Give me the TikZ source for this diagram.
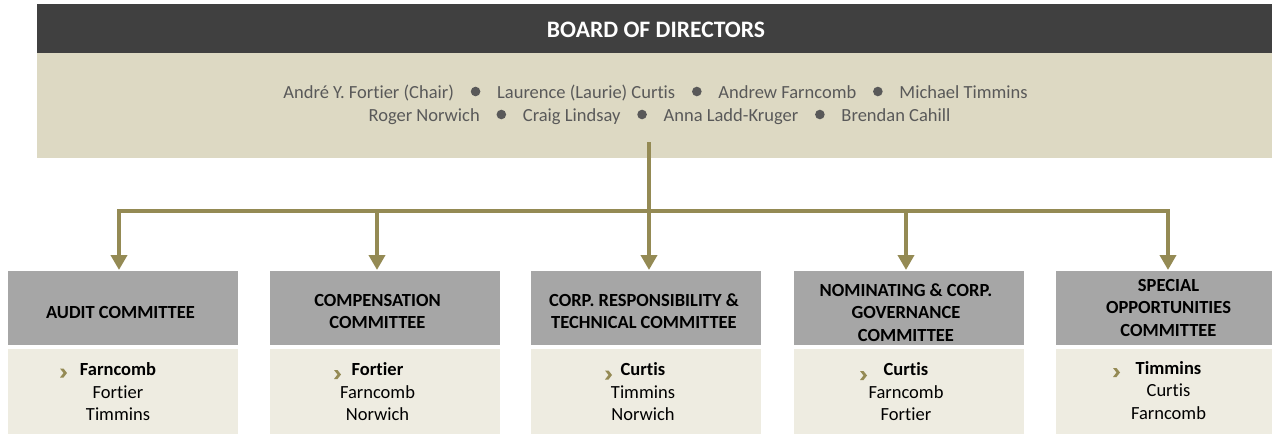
\documentclass[tikz,border=0pt]{standalone}
\usepackage{fontspec}
\setmainfont{Carlito}[Ligatures=NoCommon]
\usetikzlibrary{arrows.meta}
\definecolor{hdrc}{HTML}{404040}
\definecolor{panelc}{HTML}{DDD9C3}
\definecolor{cboxc}{HTML}{A6A6A6}
\definecolor{mboxc}{HTML}{EEECE1}
\definecolor{olivec}{HTML}{948A54}
\definecolor{ptextc}{HTML}{595959}
\newcommand{\dotsep}{\hspace{16.8pt}\tikz[baseline=0pt]\fill[ptextc] (0pt,6.5pt) circle[radius=4.8pt];\hspace{16.8pt}}
\begin{document}
\begin{tikzpicture}[x=1pt,y=-1pt,
  boxbase/.style={draw=none,inner sep=0pt,outer sep=0pt},
  hdrbox/.style={boxbase,fill=hdrc,minimum width=1235pt,minimum height=49pt},
  panelbox/.style={boxbase,fill=panelc,minimum width=1235pt,minimum height=105pt},
  combox/.style={boxbase,fill=cboxc,minimum width=230pt,minimum height=74pt},
  membox/.style={boxbase,fill=mboxc,minimum width=230pt,minimum height=85pt},
  hdrtext/.style={anchor=base,inner sep=0pt,text=white,font=\fontsize{23.6}{27}\selectfont\bfseries},
  paneltext/.style={anchor=base,inner sep=0pt,text=ptextc,font=\fontsize{18.5}{23}\selectfont},
  comlabel/.style={anchor=base,inner sep=0pt,align=center,text=black,font=\fontsize{18.5}{22.5}\selectfont\bfseries},
  memtext/.style={anchor=base,inner sep=0pt,align=center,text=black,font=\fontsize{18.5}{22.5}\selectfont},
  conn/.style={draw=olivec,line width=4pt,-{Triangle[length=15pt,width=16pt]}},
  chev/.pic={\fill[olivec] (0,0) -- (3.5,0) -- (7,4.5) -- (3.5,9) -- (0,9) -- (3.5,4.5) -- cycle;}
]
\useasboundingbox (0,0) rectangle (1272,434);
\fill[white] (0,0) rectangle (1272,434);

% board
\node[hdrbox] (board) at (654.5,28.5) {};
\node[hdrtext] (boardtitle) at (656,37) {BOARD OF DIRECTORS};
\node[panelbox] (members) at (654.5,105.5) {};
\node[paneltext] (line1) at (655.5,98) {André Y. Fortier (Chair)\dotsep Laurence (Laurie) Curtis\dotsep Andrew Farncomb\dotsep Michael Timmins};
\node[paneltext] (line2) at (659.5,121) {Roger Norwich\dotsep Craig Lindsay\dotsep Anna Ladd-Kruger\dotsep Brendan Cahill};

% committee boxes
\node[combox] (c1) at (123,308) {};
\node[combox] (c2) at (385,308) {};
\node[combox] (c3) at (646,308) {};
\node[combox] (c4) at (909,308) {};
\node[combox] (c5) at (1171,308) {};
\node[membox] (m1) at (123,391.5) {};
\node[membox] (m2) at (385,391.5) {};
\node[membox] (m3) at (646,391.5) {};
\node[membox] (m4) at (909,391.5) {};
\node[membox] (m5) at (1171,391.5) {};

% committee labels (base anchor = last line)
\node[comlabel] (l1) at (120.5,318) {AUDIT COMMITTEE};
\node[comlabel] (l2) at (377.5,328.5) {COMPENSATION\\COMMITTEE};
\node[comlabel] (l3) at (644,328.5) {CORP. RESPONSIBILITY \&\\TECHNICAL COMMITTEE};
\node[comlabel] (l4) at (906,341) {NOMINATING \& CORP.\\GOVERNANCE\\COMMITTEE};
\node[comlabel] (l5) at (1168.5,336) {SPECIAL\\OPPORTUNITIES\\COMMITTEE};

% members (base anchor = last line)
\node[memtext] (n1) at (118,420.5) {\textbf{Farncomb}\\Fortier\\Timmins};
\node[memtext] (n2) at (377.5,420.5) {\textbf{Fortier}\\Farncomb\\Norwich};
\node[memtext] (n3) at (643,420.5) {\textbf{Curtis}\\Timmins\\Norwich};
\node[memtext] (n4) at (906,420.5) {\textbf{Curtis}\\Farncomb\\Fortier};
\node[memtext] (n5) at (1168.5,419) {\textbf{Timmins}\\Curtis\\Farncomb};

% chevrons
\pic at (60,368.5) {chev};
\pic at (334,370) {chev};
\pic at (605,370.5) {chev};
\pic at (860,371) {chev};
\pic at (1113,368) {chev};

% connectors
\coordinate (src) at (649,142);
\coordinate (hub) at (649,211);
\coordinate (t1) at (119,270);
\coordinate (t2) at (377,270);
\coordinate (t3) at (649,270);
\coordinate (t4) at (906,270);
\coordinate (t5) at (1168,270);
\draw[conn] (src) -- (t3);
\draw[conn] (hub) -| (t1);
\draw[conn] (hub) -| (t2);
\draw[conn] (hub) -| (t4);
\draw[conn] (hub) -| (t5);
\end{tikzpicture}
\end{document}
